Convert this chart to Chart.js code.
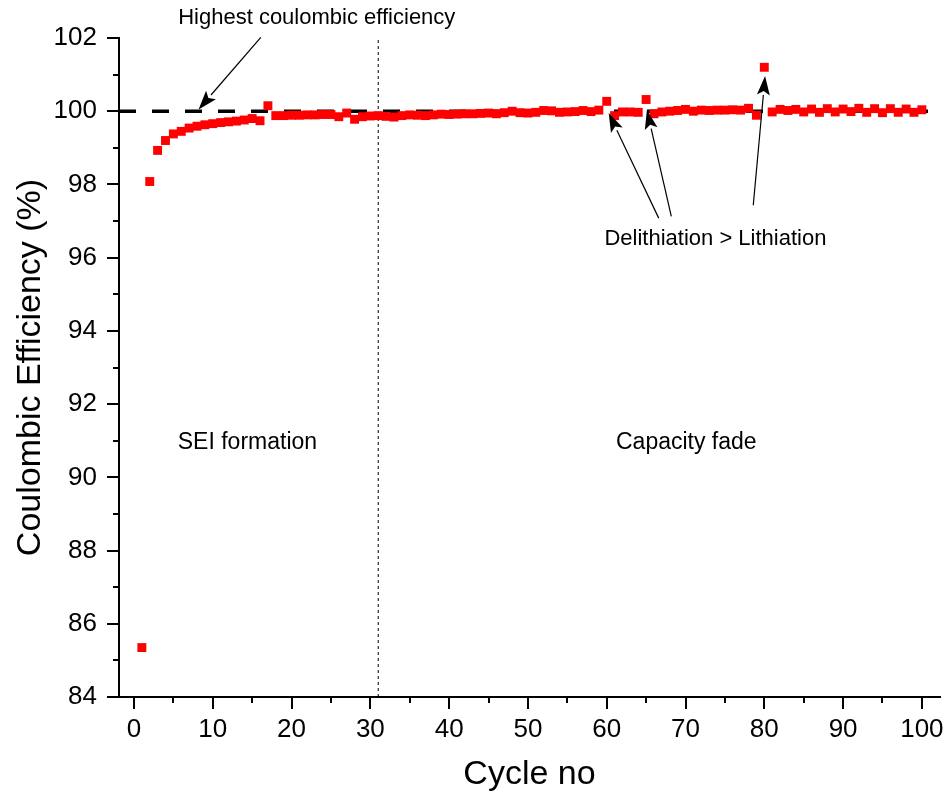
<!DOCTYPE html>
<html>
<head>
<meta charset="utf-8">
<style>
  body { margin: 0; background: #fff; }
</style>
</head>
<body>
<canvas id="myChart" width="949" height="800"></canvas>
<script src="https://cdn.jsdelivr.net/npm/chart.js@4"></script>
<script>
// coulombic efficiency (%) for cycles 1..100
let efficiency = [
    85.35, 98.08, 98.93, 99.20, 99.38, 99.45, 99.54, 99.59, 99.63, 99.66,
    99.69, 99.71, 99.73, 99.76, 99.80, 99.74, 100.15, 99.88, 99.88, 99.89,
    99.89, 99.90, 99.90, 99.91, 99.91, 99.85, 99.95, 99.78, 99.85, 99.87,
    99.88, 99.86, 99.84, 99.88, 99.90, 99.89, 99.88, 99.90, 99.92, 99.91,
    99.92, 99.93, 99.93, 99.94, 99.95, 99.93, 99.96, 100.00, 99.96, 99.95,
    99.97, 100.02, 100.01, 99.97, 99.98, 99.99, 100.02, 99.99, 100.03, 100.27,
    99.88, 99.98, 99.98, 99.97, 100.32, 99.93, 99.98, 100.00, 100.02, 100.05,
    100.00, 100.03, 100.02, 100.03, 100.03, 100.04, 100.03, 100.08, 99.89, 101.20,
    99.98, 100.05, 100.02, 100.05, 99.98, 100.06, 99.97, 100.07, 99.98, 100.06,
    99.99, 100.08, 99.97, 100.07, 99.96, 100.07, 99.97, 100.06, 99.97, 100.04
];
let xTicks = [0, 10, 20, 30, 40, 50, 60, 70, 80, 90, 100];
let xMinor = [5, 15, 25, 35, 45, 55, 65, 75, 85, 95];
let yTicks = [84, 86, 88, 90, 92, 94, 96, 98, 100, 102];
let yMinor = [85, 87, 89, 91, 93, 95, 97, 99, 101];
let idealCE = 100;
let sepCycle = 31;

// annotation texts and arrows, in data units
let notes = [
    { text: 'Highest coulombic efficiency', x: 23.2, y: 102.55, size: 22 },
    { text: 'SEI formation', x: 14.4, y: 90.96, size: 23 },
    { text: 'Capacity fade', x: 70.1, y: 90.96, size: 23 },
    { text: 'Delithiation > Lithiation', x: 73.8, y: 96.5, size: 22 }
];
let arrows = [
    { from: [16.1, 102.02], to: [8.2, 100.05] },
    { from: [66.6, 97.08], to: [60.25, 99.95] },
    { from: [68.2, 97.13], to: [65.1, 100.03] },
    { from: [78.6, 97.43], to: [80.1, 100.96] }
];

const FONT = "'Liberation Sans', Arial, sans-serif";

let extras = {
    id: 'extras',
    afterDraw(chart) {
        let c = chart.ctx;
        let xs = chart.scales.x, ys = chart.scales.y;
        let area = chart.chartArea;
        c.save();
        // minor ticks
        c.strokeStyle = '#000';
        c.lineWidth = 2;
        c.beginPath();
        xMinor.forEach(v => {
            let px = Math.round(xs.getPixelForValue(v));
            c.moveTo(px, area.bottom);
            c.lineTo(px, area.bottom + 6);
        });
        yMinor.forEach(v => {
            let py = Math.round(ys.getPixelForValue(v));
            c.moveTo(area.left, py);
            c.lineTo(area.left - 6, py);
        });
        c.stroke();

        // arrows
        arrows.forEach(a => {
            let x1 = xs.getPixelForValue(a.from[0]), y1 = ys.getPixelForValue(a.from[1]);
            let x2 = xs.getPixelForValue(a.to[0]), y2 = ys.getPixelForValue(a.to[1]);
            let ang = Math.atan2(y2 - y1, x2 - x1);
            let len = 19, half = 6.5;
            let bx = x2 - len * Math.cos(ang), by = y2 - len * Math.sin(ang);
            c.lineWidth = 1.2;
            c.beginPath();
            c.moveTo(x1, y1);
            c.lineTo(bx, by);
            c.stroke();
            c.fillStyle = '#000';
            c.beginPath();
            c.moveTo(x2, y2);
            c.lineTo(bx + half * Math.sin(ang), by - half * Math.cos(ang));
            c.lineTo(bx + 4 * Math.cos(ang), by + 4 * Math.sin(ang));
            c.lineTo(bx - half * Math.sin(ang), by + half * Math.cos(ang));
            c.closePath();
            c.fill();
        });

        // texts
        c.fillStyle = '#000';
        c.textAlign = 'center';
        c.textBaseline = 'middle';
        notes.forEach(n => {
            c.font = n.size + 'px ' + FONT;
            c.fillText(n.text, xs.getPixelForValue(n.x), ys.getPixelForValue(n.y));
        });
        c.restore();
    }
};

let ctx = document.getElementById('myChart').getContext('2d');

let myChart = new Chart(ctx, {
    type: 'scatter',
    data: {
        datasets: [{
            data: efficiency.map((v, i) => ({ x: i + 1, y: v })),
            backgroundColor: '#ff0000',
            borderWidth: 0,
            pointStyle: 'rect',
            pointRadius: 6.3,
            order: 1
        }, {
            data: [{ x: -1.9, y: idealCE }, { x: 102.3, y: idealCE }],
            showLine: true,
            borderColor: '#000',
            borderWidth: 3.5,
            borderDash: [17, 16],
            pointRadius: 0,
            order: 2
        }, {
            data: [{ x: sepCycle, y: 84 }, { x: sepCycle, y: 102 }],
            showLine: true,
            borderColor: '#000',
            borderWidth: 1,
            borderDash: [3, 3],
            pointRadius: 0,
            order: 3
        }]
    },
    options: {
        responsive: false,
        animation: false,
        devicePixelRatio: 1,
        layout: { padding: { top: 38, right: 9, left: 0, bottom: 0 } },
        plugins: {
            legend: { display: false },
            tooltip: { enabled: false }
        },
        scales: {
            x: {
                type: 'linear',
                min: -1.9,
                max: 102.3,
                afterBuildTicks: s => { s.ticks = xTicks.map(v => ({ value: v })); },
                afterFit: s => { s.height = 103; },
                grid: { drawOnChartArea: false, tickLength: 12, color: '#000', lineWidth: 2 },
                border: { color: '#000', width: 2 },
                ticks: { color: '#000', font: { family: FONT, size: 26 }, padding: 5, maxRotation: 0, autoSkip: false },
                title: { display: true, text: 'Cycle no', color: '#000', font: { family: FONT, size: 34 }, padding: { top: 0, bottom: 5 } }
            },
            y: {
                min: 84,
                max: 102,
                afterBuildTicks: s => { s.ticks = yTicks.map(v => ({ value: v })); },
                afterFit: s => { s.width = 119; },
                grid: { drawOnChartArea: false, tickLength: 12, color: '#000', lineWidth: 2 },
                border: { color: '#000', width: 2 },
                ticks: { color: '#000', font: { family: FONT, size: 26 }, padding: 10, autoSkip: false },
                title: { display: true, text: 'Coulombic Efficiency (%)', color: '#000', font: { family: FONT, size: 34 }, padding: { top: 10, bottom: 0 } }
            }
        }
    },
    plugins: [extras]
});
</script>
</body>
</html>
